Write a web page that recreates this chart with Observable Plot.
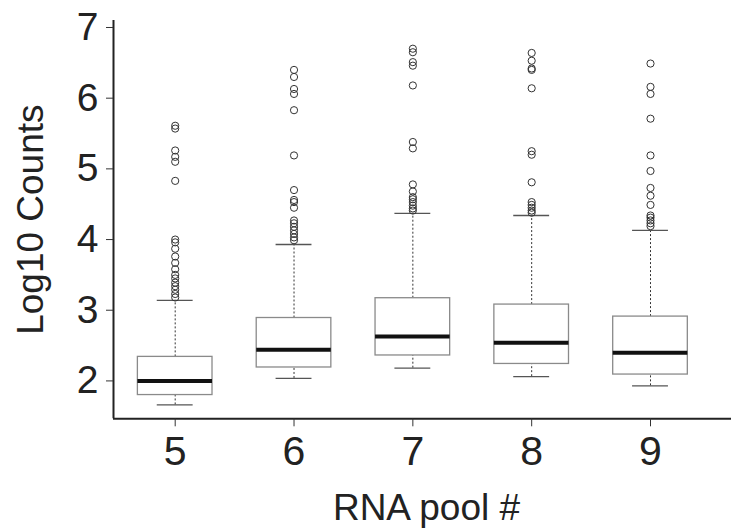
<!DOCTYPE html>
<html>
<head>
<meta charset="utf-8">
<script src="https://cdn.jsdelivr.net/npm/d3@7"></script>
<script src="https://cdn.jsdelivr.net/npm/@observablehq/plot@0.6"></script>
<style>
  html, body { margin: 0; padding: 0; background: #ffffff; }
  #chart svg { display: block; }
</style>
</head>
<body>
<div id="chart"></div>
<script>
// Categories
const pools = [5, 6, 7, 8, 9];
// Box statistics (Log10 counts)
const lowerWhisker = [1.66, 2.035, 2.18, 2.06, 1.93];
const q1 = [1.80, 2.19, 2.36, 2.24, 2.09];
const median = [2.00, 2.44, 2.63, 2.54, 2.40];
const q3 = [2.34, 2.89, 3.17, 3.08, 2.91];
const upperWhisker = [3.14, 3.93, 4.37, 4.34, 4.13];
// Outliers per pool
const outliers5 = [5.61, 5.57, 5.26, 5.17, 5.10, 4.83, 4.00, 3.96, 3.87, 3.76, 3.67, 3.58, 3.50, 3.45, 3.39, 3.34, 3.29, 3.23, 3.18];
const outliers6 = [6.40, 6.30, 6.13, 6.06, 5.83, 5.19, 4.70, 4.56, 4.53, 4.45, 4.27, 4.23, 4.18, 4.13, 4.08, 4.03, 3.99];
const outliers7 = [6.70, 6.65, 6.51, 6.46, 6.18, 5.38, 5.29, 4.78, 4.68, 4.60, 4.57, 4.53, 4.48, 4.44, 4.41];
const outliers8 = [6.64, 6.53, 6.42, 6.40, 6.14, 5.25, 5.20, 4.81, 4.53, 4.49, 4.45, 4.41, 4.38];
const outliers9 = [6.49, 6.16, 6.06, 5.71, 5.19, 4.97, 4.73, 4.62, 4.49, 4.34, 4.31, 4.27, 4.23, 4.19];
// Tick labels
const yTicks = [2, 3, 4, 5, 6, 7];
const xTicks = pools;
const yTitle = "Log10 Counts";
const xTitle = "RNA pool #";

const boxes = pools.map((p, i) => ({
  pool: p, lo: lowerWhisker[i], q1: q1[i], med: median[i], q3: q3[i], hi: upperWhisker[i]
}));
const outlierLists = [outliers5, outliers6, outliers7, outliers8, outliers9];
const outlierRows = pools.flatMap((p, i) => outlierLists[i].map(v => ({pool: p, value: v})));

const halfBox = 0.314;
const halfCap = 0.151;
const xDomain = [4.4808, 9.6816];
const yDomain = [1.464, 7.099];

const chart = Plot.plot({
  width: 731,
  height: 529,
  marginLeft: 113,
  marginRight: 0,
  marginTop: 20,
  marginBottom: 110.7,
  style: {fontFamily: "'Liberation Sans', Arial, sans-serif", color: "#222", background: "#ffffff"},
  x: {type: "linear", domain: xDomain},
  y: {domain: yDomain},
  marks: [
    // whiskers (dotted)
    Plot.ruleX(boxes, {x: "pool", y1: "q3", y2: "hi", stroke: "#333", strokeWidth: 1, strokeDasharray: "2,2"}),
    Plot.ruleX(boxes, {x: "pool", y1: "lo", y2: "q1", stroke: "#333", strokeWidth: 1, strokeDasharray: "2,2"}),
    // whisker caps
    Plot.ruleY(boxes, {y: "hi", x1: d => d.pool - halfCap, x2: d => d.pool + halfCap, stroke: "#555", strokeWidth: 1.3}),
    Plot.ruleY(boxes, {y: "lo", x1: d => d.pool - halfCap, x2: d => d.pool + halfCap, stroke: "#555", strokeWidth: 1.3}),
    // boxes
    Plot.rect(boxes, {x1: d => d.pool - halfBox, x2: d => d.pool + halfBox, y1: "q1", y2: "q3", fill: "#ffffff", stroke: "#8a8a8a", strokeWidth: 1.3}),
    // medians
    Plot.ruleY(boxes, {y: "med", x1: d => d.pool - halfBox, x2: d => d.pool + halfBox, stroke: "#111", strokeWidth: 4}),
    // outliers
    Plot.dot(outlierRows, {x: "pool", y: "value", r: 3.6, stroke: "#333", fill: "none", strokeWidth: 1}),
    // axis lines
    Plot.ruleX([xDomain[0]], {stroke: "#222", strokeWidth: 2}),
    Plot.ruleY([yDomain[0]], {stroke: "#222", strokeWidth: 2}),
    // axes
    Plot.axisY({ticks: yTicks, tickFormat: d => String(d), tickSize: 7, tickPadding: 8, fontSize: 39, stroke: "#333", label: null}),
    Plot.axisX({ticks: xTicks, tickFormat: d => String(d), tickSize: 8, tickPadding: 9, fontSize: 41, stroke: "#333", label: null}),
    // axis titles
    Plot.text([yTitle], {frameAnchor: "left", rotate: -90, dx: -82, fontSize: 37, fill: "#222", lineAnchor: "middle", textAnchor: "middle"}),
    Plot.text([xTitle], {frameAnchor: "bottom", dy: 101, dx: 4, fontSize: 37, fill: "#222", lineAnchor: "bottom", textAnchor: "middle"})
  ]
});
document.getElementById("chart").appendChild(chart);
</script>
</body>
</html>
